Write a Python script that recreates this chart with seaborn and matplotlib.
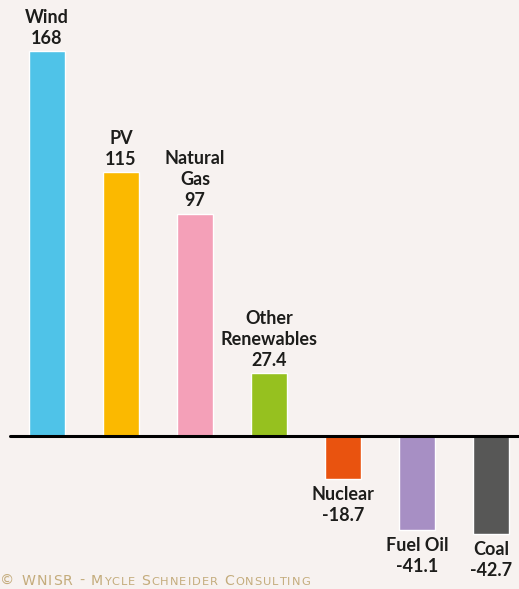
import matplotlib.pyplot as plt
import seaborn as sns
import pandas as pd

# Datos del gráfico
categories = ["Wind", "PV", "Natural\nGas", "Other\nRenewables", "Nuclear", "Fuel Oil", "Coal"]
values = [168, 115, 97, 27.4, -18.7, -41.1, -42.7]
value_labels = ["168", "115", "97", "27.4", "-18.7", "-41.1", "-42.7"]
colors = ["#4fc3e8", "#fbb900", "#f4a0b8", "#96c11f", "#e9530f", "#a78fc4", "#575756"]
credit = "© WNISR - Mycle Schneider Consulting"

bg = "#f7f2f0"
sns.set_theme(style="white")
plt.rcParams['font.family'] = ['Lato', 'DejaVu Sans']

df = pd.DataFrame({"cat": categories, "val": values})

fig = plt.figure(figsize=(5.19, 5.89), dpi=100, facecolor=bg)
ax = fig.add_axes([0, 0, 1, 1])
ax.set_facecolor(bg)

sns.barplot(data=df, x="cat", y="val", hue="cat", palette=colors,
            width=0.49, legend=False, ax=ax, saturation=1)

ax.set_xlim(-0.635, 6.378)
ax.set_ylim(-66.75, 190.2)
ax.axis("off")

# Línea de cero
ax.plot([-0.5, 6.378], [0, 0], color="black", lw=2.2, zorder=5)

# Etiquetas sobre/bajo cada barra
for i, (cat, v, lab) in enumerate(zip(categories, values, value_labels)):
    txt = f"{cat}\n{lab}"
    if v >= 0:
        ax.annotate(txt, (i, v), xytext=(0, 3), textcoords="offset points",
                    ha="center", va="bottom", fontsize=13, fontweight="bold",
                    color="#1d1d1b", linespacing=1.3)
    else:
        ax.annotate(txt, (i, v), xytext=(0, -5), textcoords="offset points",
                    ha="center", va="top", fontsize=13, fontweight="bold",
                    color="#1d1d1b", linespacing=1.3)

# Marca de agua en versalitas (simuladas)
renderer = fig.canvas.get_renderer()
x = 0.5
for ch in credit:
    size = 8.2 if ch.islower() else 10.2
    t = fig.text(x / 519, 4 / 589, ch.upper(), fontsize=size, color="#c4ac7c",
                 ha="left", va="baseline", family="DejaVu Sans")
    w = t.get_window_extent(renderer).width if ch != " " else 4.5
    x += w + 1.0

plt.savefig("out.png", dpi=100, facecolor=bg)
plt.close()
